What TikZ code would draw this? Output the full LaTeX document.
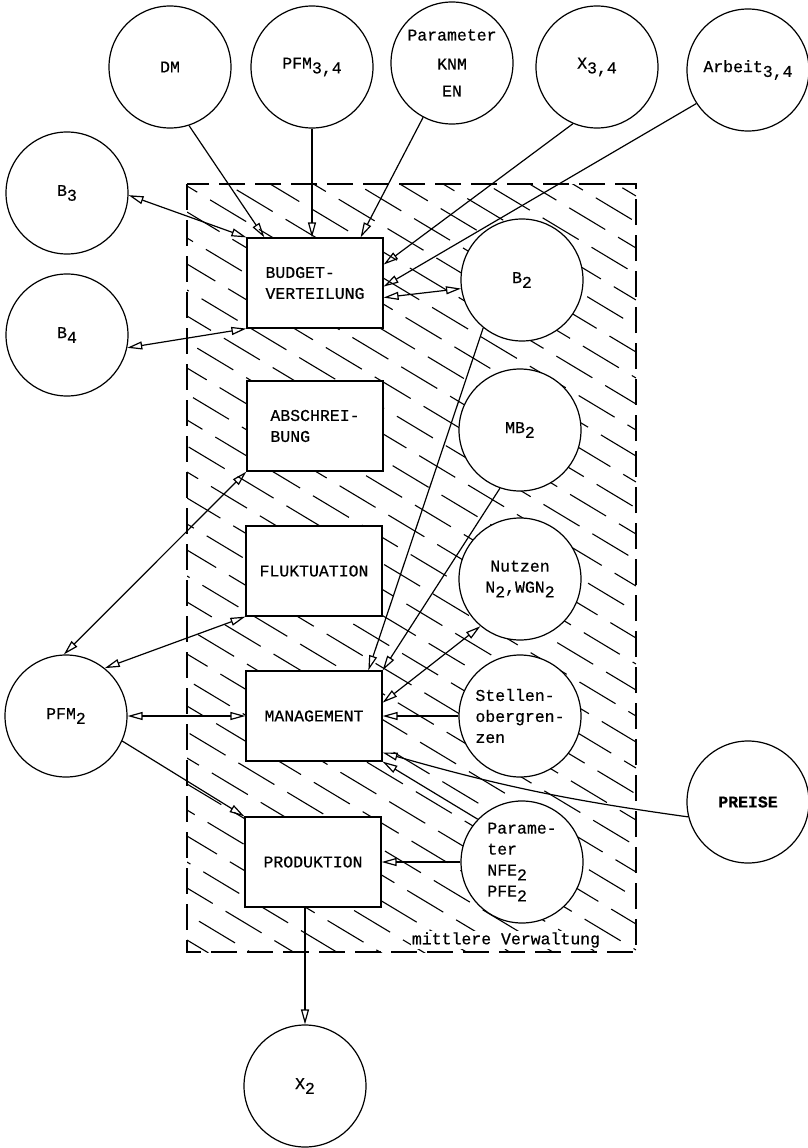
\documentclass[tikz,border=0pt]{standalone}
\usepackage{fontspec}
\setmainfont{Liberation Mono}[FakeBold=0.5]
\usetikzlibrary{arrows.meta}

\newcommand{\tief}[1]{\raisebox{-0.55ex}{#1}}

\begin{document}
\begin{tikzpicture}[x=1pt ,y=-1pt ,line width=1.2pt ,
    font=\fontsize{16.5}{21}\selectfont ,
    kreis/.style ={ circle ,draw ,fill=white ,inner sep=0pt ,minimum size=122pt ,align=center},
    kasten/.style ={ rectangle ,draw ,fill=white ,minimum width=136pt ,minimum height=90pt ,align=left},
    pfeil/.style ={ -{Triangle[open,length=15pt,width=8pt]} },
    doppel/.style ={ {Triangle[open,length=15pt,width=8pt]}-{Triangle[open,length=15pt,width=8pt]} },
    schraffur/.style ={ line width=1.1pt ,dash pattern=on 42pt off 15pt},
    rahmen/.style ={ line width=1.1pt ,dash pattern=on 26pt off 10pt}]
    \useasboundingbox (0,0) rectangle (808,1148);

    % schraffierte Flaeche
    \begin{scope}
      \clip (187,184) rectangle (636,952);
      \foreach \c [count=\k ,evaluate=\k as \ph using {mod(\k*31,57)}] in {-100,-74,...,960}
        \draw[schraffur ,dash phase=\ph pt] (187,\c) -- ++(449,270);
    \end{scope}
    \draw[rahmen] (187,184) rectangle (636,952);

    % Kreise
    \node[kreis] (dm) at (170,67) {DM};
    \node[kreis] (pfmo) at (312,67) {PFM\tief{3,4}};
    \node[kreis] (knm) at (452,63) {Parameter\\[8pt]KNM\\[6pt]EN};
    \node[kreis] (xo) at (597,67) {X\tief{3,4}};
    \node[kreis] (arbeit) at (748,70) {Arbeit\tief{3,4}};
    \node[kreis] (bdrei) at (67,193) {B\tief{3}};
    \node[kreis] (bvier) at (67,335) {B\tief{4}};
    \node[kreis] (bzwei) at (522,280) {B\tief{2}};
    \node[kreis] (mbzwei) at (520,430) {MB\tief{2}};
    \node[kreis] (nutzen) at (520,579) {Nutzen\\N\tief{2},WGN\tief{2}};
    \node[kreis ,align=left] (stellen) at (520,716) {Stellen-\\obergren-\\zen};
    \node[kreis] (preise) at (748,802) {\bfseries PREISE};
    \node[kreis ,align=left] (parprod) at (522,862) {Parame-\\ter\\NFE\tief{2}\\PFE\tief{2}};
    \node[kreis] (pfmzwei) at (66,716) {PFM\tief{2}};
    \node[kreis] (xzwei) at (305,1086) {X\tief{2}};

    % Kaesten
    \node[kasten] (budget) at (315,283) {BUDGET-\\VERTEILUNG};
    \node[kasten] (abschr) at (315,426) {ABSCHREI-\\BUNG};
    \node[kasten] (flukt) at (314,571) {FLUKTUATION};
    \node[kasten] (manag) at (314,716) {MANAGEMENT};
    \node[kasten] (prod) at (313,862) {PRODUKTION};

    \node[fill=white ,inner sep=1pt] (verw) at (506,940) {mittlere Verwaltung};

    % Verbindungen
    \draw[pfeil] (dm.-72) -- (budget.138);
    \draw[pfeil] (pfmo.south) -- (pfmo.south |- budget.north);
    \draw[pfeil] (knm.242) -- (budget.45);
    \draw[pfeil] (xo.247) -- (budget.15);
    \draw[pfeil] (arbeit.213) -- (budget.-3);
    \draw[doppel] (bzwei.188) -- (budget.-12);
    \draw[doppel] (bdrei.-2) -- (budget.north west);
    \draw[doppel] (bvier.-12) -- (budget.south west);
    \draw[doppel] (pfmzwei.92) -- (abschr.south west);
    \draw[doppel] (pfmzwei.51) -- (flukt.south west);
    \draw[doppel] (pfmzwei.east) -- (manag.west);
    \draw[pfeil] (pfmzwei.-24) -- (prod.north west);
    \draw[pfeil] (bzwei.231) -- (manag.40);
    \draw[pfeil] (mbzwei.251) -- (manag.north east);
    \draw[doppel] (nutzen.230) -- (manag.11);
    \draw[pfeil] (stellen.west) -- (manag.east);
    \draw[pfeil] (preise.194) to[bend left=4] (manag.-28);
    \draw[pfeil] (parprod.136) -- (manag.south east);
    \draw[pfeil] (parprod.west) -- (prod.east);
    \draw[pfeil] (xzwei.north |- prod.south) -- (xzwei.north);

\end{tikzpicture}
\end{document}
